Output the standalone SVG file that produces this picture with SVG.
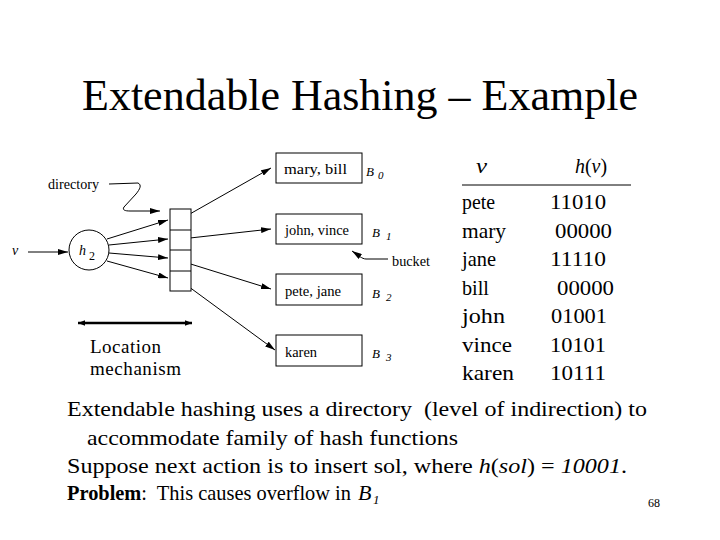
<svg xmlns="http://www.w3.org/2000/svg" width="720" height="540" viewBox="0 0 720 540">
<defs>
<marker id="ah" viewBox="0 0 10 6" refX="10" refY="3" markerWidth="10" markerHeight="6" markerUnits="userSpaceOnUse" orient="auto">
<path d="M0,0 L10,3 L0,6 Z" fill="#000"/>
</marker>
<marker id="big" viewBox="0 0 10 8" refX="10" refY="4" markerWidth="7" markerHeight="6" markerUnits="userSpaceOnUse" orient="auto-start-reverse">
<path d="M0,0 L10,4 L0,8 Z" fill="#000"/>
</marker>
<style>
.t{font-family:"Liberation Serif","Times New Roman",serif;fill:#000}
.s{font-size:14px}
.i{font-style:italic}
.tb{font-size:22px}
.bt{font-size:22px}
.ln{fill:none;stroke:#000;stroke-width:1}
.box{fill:#fff;stroke:#000;stroke-width:1}
</style>
</defs>
<rect width="720" height="540" fill="#fff"/>
<text id="title" class="t" x="360" y="110" font-size="44" text-anchor="middle">Extendable Hashing – Example</text>

<g id="connectors">
<path class="ln" d="M109,184 L138,183 C142,185 140,189 136,194 L124,207 C122,210 125,211 130,211 L160,211" marker-end="url(#ah)"/>
<line class="ln" x1="28" y1="252" x2="68" y2="252" marker-end="url(#ah)"/>
<line class="ln" x1="107" y1="239" x2="168" y2="220" marker-end="url(#ah)"/>
<line class="ln" x1="109" y1="245" x2="168" y2="239" marker-end="url(#ah)"/>
<line class="ln" x1="109" y1="253" x2="168" y2="258" marker-end="url(#ah)"/>
<line class="ln" x1="107" y1="261" x2="168" y2="278" marker-end="url(#ah)"/>
<line class="ln" x1="181" y1="219" x2="271" y2="168" marker-end="url(#ah)"/>
<line class="ln" x1="181" y1="239" x2="271" y2="229" marker-end="url(#ah)"/>
<line class="ln" x1="181" y1="261" x2="271" y2="289" marker-end="url(#ah)"/>
<line class="ln" x1="181" y1="281" x2="275" y2="350" marker-end="url(#ah)"/>
<path class="ln" d="M388,259 L366,259 C362,259 358,255 352,251" marker-end="url(#ah)"/>
<line x1="78" y1="323" x2="192" y2="323" stroke="#000" stroke-width="2.5" marker-start="url(#big)" marker-end="url(#big)"/>
</g>

<g id="directory-label"><text class="t s" x="48" y="189" textLength="51" lengthAdjust="spacingAndGlyphs">directory</text></g>
<g id="v-input"><text class="t s i" x="12" y="255">v</text></g>
<g id="hash-h2">
<circle cx="89" cy="250" r="20" fill="#fff" stroke="#000" stroke-width="1"/>
<text class="t i" x="79" y="255" font-size="14">h<tspan font-size="12" font-style="normal" dx="3" dy="5">2</tspan></text>
</g>
<g id="directory">
<rect class="box" x="170" y="209" width="21" height="82"/>
<line class="ln" x1="170" y1="230" x2="191" y2="230"/>
<line class="ln" x1="170" y1="250" x2="191" y2="250"/>
<line class="ln" x1="170" y1="271" x2="191" y2="271"/>
</g>
<g id="B0">
<rect class="box" x="276" y="153" width="86" height="30"/>
<text class="t s" x="284" y="174" textLength="63" lengthAdjust="spacingAndGlyphs">mary, bill</text>
<text class="t i" x="366" y="176" font-size="13">B<tspan font-size="11" dx="4" dy="3">0</tspan></text>
</g>
<g id="B1">
<rect class="box" x="276" y="214" width="86" height="30"/>
<text class="t s" x="285" y="235" textLength="64" lengthAdjust="spacingAndGlyphs">john, vince</text>
<text class="t i" x="372" y="237" font-size="13">B<tspan font-size="11" dx="6" dy="3">1</tspan></text>
</g>
<g id="B2">
<rect class="box" x="276" y="274" width="86" height="31"/>
<text class="t s" x="285" y="296" textLength="56" lengthAdjust="spacingAndGlyphs">pete, jane</text>
<text class="t i" x="372" y="298" font-size="13">B<tspan font-size="11" dx="6" dy="3">2</tspan></text>
</g>
<g id="B3">
<rect class="box" x="276" y="335" width="86" height="31"/>
<text class="t s" x="285" y="357" textLength="32" lengthAdjust="spacingAndGlyphs">karen</text>
<text class="t i" x="372" y="358" font-size="13">B<tspan font-size="11" dx="6" dy="3">3</tspan></text>
</g>
<g id="bucket-label"><text class="t s" x="392" y="266" textLength="38" lengthAdjust="spacingAndGlyphs">bucket</text></g>
<g id="location-mechanism">
<text class="t" x="90" y="353" font-size="19" textLength="71">Location</text>
<text class="t" x="90" y="375" font-size="19" textLength="91">mechanism</text>
</g>

<g id="table">
<text class="t tb i" x="476" y="173" textLength="11" lengthAdjust="spacingAndGlyphs">v</text>
<text class="t tb" x="575" y="173" textLength="32" lengthAdjust="spacingAndGlyphs"><tspan font-style="italic">h</tspan>(<tspan font-style="italic">v</tspan>)</text>
<line x1="462" y1="185" x2="631" y2="185" stroke="#000" stroke-width="1"/>
<text class="t tb" x="462" y="209" textLength="33" lengthAdjust="spacingAndGlyphs">pete</text><text class="t tb" x="550" y="209" textLength="56" lengthAdjust="spacingAndGlyphs">11010</text>
<text class="t tb" x="462" y="238" textLength="44" lengthAdjust="spacingAndGlyphs">mary</text><text class="t tb" x="555" y="238" textLength="57" lengthAdjust="spacingAndGlyphs">00000</text>
<text class="t tb" x="462" y="266" textLength="34" lengthAdjust="spacingAndGlyphs">jane</text><text class="t tb" x="550" y="266" textLength="56" lengthAdjust="spacingAndGlyphs">11110</text>
<text class="t tb" x="462" y="295" textLength="27" lengthAdjust="spacingAndGlyphs">bill</text><text class="t tb" x="557" y="295" textLength="57" lengthAdjust="spacingAndGlyphs">00000</text>
<text class="t tb" x="462" y="323" textLength="43" lengthAdjust="spacingAndGlyphs">john</text><text class="t tb" x="551" y="323" textLength="56" lengthAdjust="spacingAndGlyphs">01001</text>
<text class="t tb" x="462" y="352" textLength="50" lengthAdjust="spacingAndGlyphs">vince</text><text class="t tb" x="550" y="352" textLength="56" lengthAdjust="spacingAndGlyphs">10101</text>
<text class="t tb" x="462" y="380" textLength="52" lengthAdjust="spacingAndGlyphs">karen</text><text class="t tb" x="550" y="380" textLength="56" lengthAdjust="spacingAndGlyphs">10111</text>
</g>

<g id="body-text">
<text class="t bt" x="67" y="416" textLength="580" lengthAdjust="spacingAndGlyphs">Extendable hashing uses a directory&#160; (level of indirection) to</text>
<text class="t bt" x="87" y="445" textLength="371" lengthAdjust="spacingAndGlyphs">accommodate family of hash functions</text>
<text class="t bt" x="67" y="473" textLength="560" lengthAdjust="spacingAndGlyphs">Suppose next action is to insert sol, where <tspan font-style="italic">h</tspan>(<tspan font-style="italic">sol</tspan>) = <tspan font-style="italic">10001</tspan>.</text>
<text class="t" x="67" y="500" font-size="20.3" textLength="284" lengthAdjust="spacingAndGlyphs"><tspan font-weight="bold">Problem</tspan>:&#160; This causes overflow in</text>
<text class="t bt i" x="358" y="500">B</text>
<text class="t i" x="373" y="504" font-size="13">1</text>
<text class="t" x="648" y="507" font-size="12">68</text>
</g>
</svg>
